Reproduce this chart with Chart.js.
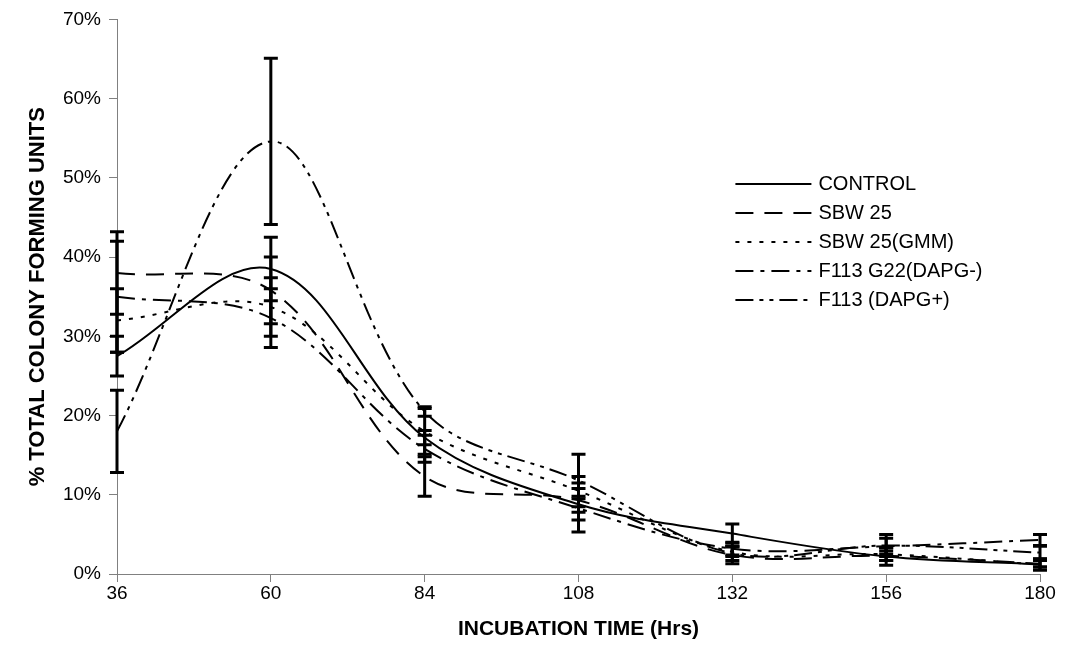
<!DOCTYPE html>
<html lang="en">
<head>
  <meta charset="UTF-8" />
  <title>Colony forming units vs incubation time</title>
  <script src="https://cdn.jsdelivr.net/npm/chart.js"></script>
  <style>
    html, body { margin: 0; padding: 0; background: #fff; }
    .container { width: 1065px; height: 647px; }
  </style>
</head>
<body>
  <div class="container">
    <canvas id="cfu-chart" width="1065" height="647"></canvas>
  </div>

  <script>
    // incubation time (hrs) on the x axis
    const hours = [36, 60, 84, 108, 132, 156, 180];

    // % of total colony forming units, with +/- error per point
    const control    = [27.5, 38.5, 17.2, 8.8, 5.1, 2.2, 1.2];
    const controlErr = [2.5, 4.0, 0.9, 3.5, 1.2, 1.1, 0.7];

    const sbw25    = [38.0, 35.8, 12.3, 9.3, 2.4, 2.3, 1.3];
    const sbw25Err = [5.2, 4.2, 2.5, 1.5, 1.1, 0.6, 0.4];

    const gmm    = [32.0, 33.7, 18.0, 10.5, 2.8, 2.5, 1.2];
    const gmmErr = [4.0, 3.7, 2.9, 1.0, 0.6, 0.8, 0.7];

    const dapgMinus    = [35.0, 32.3, 15.8, 8.3, 3.2, 3.5, 4.3];
    const dapgMinusErr = [7.0, 3.7, 1.7, 1.5, 0.8, 1.0, 0.7];

    const dapgPlus    = [18.0, 54.6, 20.5, 11.8, 2.6, 3.6, 2.7];
    const dapgPlusErr = [5.2, 10.5, 0.6, 3.3, 0.9, 1.4, 0.8];

    const seriesNames = ["CONTROL", "SBW 25", "SBW 25(GMM)", "F113 G22(DAPG-)", "F113 (DAPG+)"];
    const yTicks = [0, 10, 20, 30, 40, 50, 60, 70];

    const FONT = '"Liberation Sans", Arial, sans-serif';

    function points(values) {
      return values.map((v, i) => ({ x: hours[i], y: v }));
    }

    function series(label, values, errors, dash) {
      return {
        label,
        data: points(values),
        errors,
        borderColor: "#000",
        borderWidth: 2,
        borderDash: dash,
        pointRadius: 0,
        tension: 0.35,
        fill: false
      };
    }

    // error bars: vertical line + caps at value +/- error
    const errorBars = {
      id: "errorBars",
      afterDatasetsDraw(chart) {
        const { ctx, scales } = chart;
        ctx.save();
        ctx.strokeStyle = "#000";
        ctx.lineWidth = 3;
        ctx.setLineDash([]);
        chart.data.datasets.forEach(ds => {
          ds.data.forEach((p, i) => {
            const e = ds.errors[i];
            const x = scales.x.getPixelForValue(p.x);
            const yTop = scales.y.getPixelForValue(p.y + e);
            const yBot = scales.y.getPixelForValue(Math.max(0, p.y - e));
            ctx.beginPath();
            ctx.moveTo(x, yTop); ctx.lineTo(x, yBot);
            ctx.moveTo(x - 7, yTop); ctx.lineTo(x + 7, yTop);
            ctx.moveTo(x - 7, yBot); ctx.lineTo(x + 7, yBot);
            ctx.stroke();
          });
        });
        ctx.restore();
      }
    };

    // legend drawn inside the plot, with dashed line samples
    const lineLegend = {
      id: "lineLegend",
      afterDraw(chart) {
        const { ctx, chartArea } = chart;
        const x0 = chartArea.left + chartArea.width * 0.67;
        let y = chartArea.top + chartArea.height * 0.297;
        ctx.save();
        ctx.font = "20px " + FONT;
        ctx.textBaseline = "middle";
        ctx.fillStyle = "#000";
        chart.data.datasets.forEach(ds => {
          ctx.beginPath();
          ctx.setLineDash(ds.borderDash);
          ctx.lineWidth = ds.borderWidth;
          ctx.strokeStyle = ds.borderColor;
          ctx.moveTo(x0, y);
          ctx.lineTo(x0 + 76, y);
          ctx.stroke();
          ctx.setLineDash([]);
          ctx.fillText(ds.label, x0 + 83, y);
          y += 29;
        });
        ctx.restore();
      }
    };

    const chart = new Chart(document.getElementById("cfu-chart").getContext("2d"), {
      type: "line",
      data: {
        datasets: [
          series(seriesNames[0], control, controlErr, []),
          series(seriesNames[1], sbw25, sbw25Err, [18, 11]),
          series(seriesNames[2], gmm, gmmErr, [4, 8]),
          series(seriesNames[3], dapgMinus, dapgMinusErr, [18, 7, 4, 7]),
          series(seriesNames[4], dapgPlus, dapgPlusErr, [18, 6, 4, 6, 4, 6])
        ]
      },
      options: {
        responsive: false,
        animation: false,
        layout: { padding: { top: 7, right: 25, bottom: 0, left: 0 } },
        plugins: {
          legend: { display: false },
          tooltip: { enabled: false }
        },
        scales: {
          x: {
            type: "linear",
            min: 36,
            max: 180,
            afterBuildTicks: s => { s.ticks = hours.map(v => ({ value: v })); },
            afterFit: s => { s.height = 73; },
            grid: { drawOnChartArea: false, color: "#808080", tickLength: 8 },
            border: { color: "#808080", width: 1 },
            ticks: { color: "#000", font: { family: FONT, size: 19 }, padding: 0, maxRotation: 0 },
            title: {
              display: true,
              text: "INCUBATION TIME (Hrs)",
              color: "#000",
              font: { family: FONT, size: 21, weight: "bold" },
              padding: { top: 0, bottom: 5 }
            }
          },
          y: {
            min: 0,
            max: 70,
            afterBuildTicks: s => { s.ticks = yTicks.map(v => ({ value: v })); },
            afterFit: s => { s.width = 117; },
            grid: { drawOnChartArea: false, color: "#808080", tickLength: 8 },
            border: { color: "#808080", width: 1 },
            ticks: {
              color: "#000",
              font: { family: FONT, size: 19 },
              padding: 8,
              callback: v => v + "%"
            },
            title: {
              display: true,
              text: "% TOTAL COLONY FORMING UNITS",
              color: "#000",
              font: { family: FONT, size: 22, weight: "bold" },
              padding: { top: 25, bottom: 0 }
            }
          }
        }
      },
      plugins: [errorBars, lineLegend]
    });
  </script>
</body>
</html>
